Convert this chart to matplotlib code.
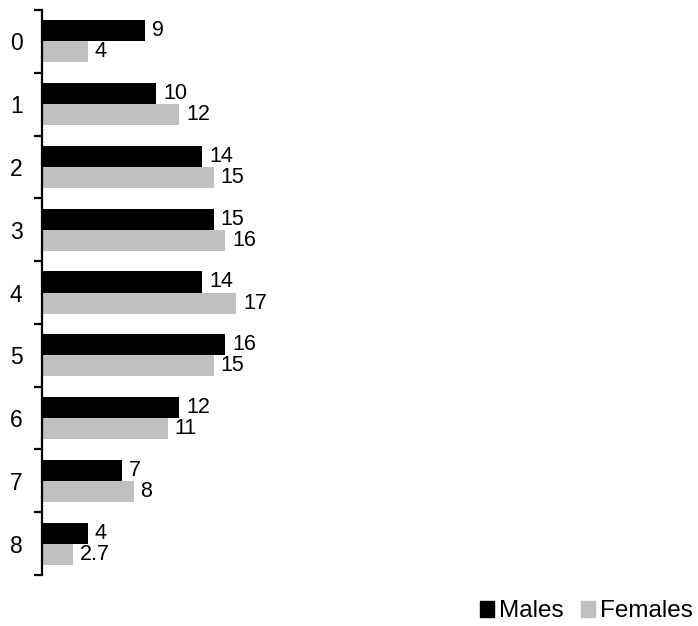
import matplotlib.pyplot as plt
from matplotlib.patches import Patch
import numpy as np

plt.rcParams['font.family'] = ['Liberation Sans', 'DejaVu Sans']

categories = ["0", "1", "2", "3", "4", "5", "6", "7", "8"]
males = [9, 10, 14, 15, 14, 16, 12, 7, 4]
females = [4, 12, 15, 16, 17, 15, 11, 8, 2.7]
male_labels = ["9", "10", "14", "15", "14", "16", "12", "7", "4"]
female_labels = ["4", "12", "15", "16", "17", "15", "11", "8", "2.7"]

W, H = 698, 626
fig = plt.figure(figsize=(W / 100, H / 100), dpi=100)
ax = fig.add_axes([42 / W, (H - 575) / H, 572 / W, 565 / H])

y = np.arange(len(categories))
h = 0.335
b1 = ax.barh(y - h / 2, males, height=h, color="black")
b2 = ax.barh(y + h / 2, females, height=h, color="#c0c0c0")
ax.bar_label(b1, labels=male_labels, padding=5, fontsize=15.5)
ax.bar_label(b2, labels=female_labels, padding=5, fontsize=15.5)

ax.set_xlim(0, 50)
ax.set_ylim(len(categories) - 0.5, -0.5)

# boundary ticks (major), category labels (minor)
ax.set_yticks(np.arange(-0.5, len(categories), 1.0))
ax.set_yticklabels([])
ax.set_yticks(y, minor=True)
ax.set_yticklabels(categories, minor=True, fontsize=16.5)
ax.tick_params(axis="y", which="major", length=6, width=1.6, direction="out")
ax.tick_params(axis="y", which="minor", length=0, pad=14)
ax.set_xticks([])

for s in ["top", "right", "bottom"]:
    ax.spines[s].set_visible(False)
ax.spines["left"].set_linewidth(1.6)

handles = [Patch(color="black"), Patch(color="#c0c0c0")]
fig.legend(handles, ["Males", "Females"], loc="lower right",
           bbox_to_anchor=(1.0, -0.002), ncol=2, frameon=False, fontsize=17.5,
           handlelength=0.6, handleheight=0.6, handletextpad=0.2,
           columnspacing=0.7, borderpad=0.15, borderaxespad=0.05)

fig.savefig("out.png", dpi=100)
